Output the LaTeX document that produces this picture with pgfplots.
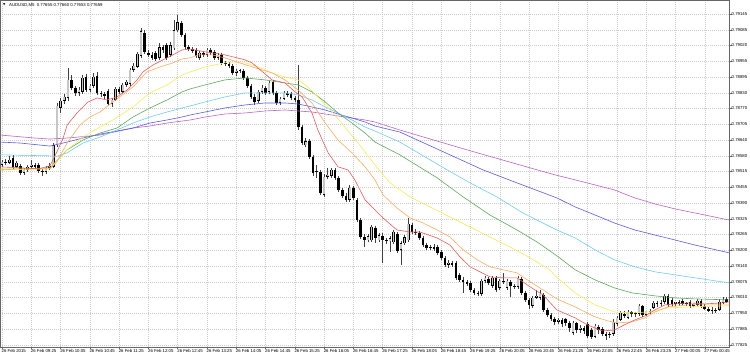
\documentclass[border=0pt]{standalone}
\usepackage{pgfplots}
\pgfplotsset{compat=1.18}
\usepackage{pgfplotstable}
\usepackage{fontspec}
\setmainfont{Liberation Sans}
\newfontfamily\symfont{DejaVu Sans}
\definecolor{mared}{RGB}{240,90,90}
\definecolor{maorange}{RGB}{255,170,90}
\definecolor{mayellow}{RGB}{245,235,80}
\definecolor{magreen}{RGB}{90,170,90}
\definecolor{macyan}{RGB}{110,205,245}
\definecolor{mablue}{RGB}{90,90,235}
\definecolor{mapurple}{RGB}{185,100,200}

\pgfplotstableread{
i o h l c
0 0.78543 0.78563 0.78535 0.78555
1 0.78555 0.78567 0.78543 0.78551
2 0.78551 0.78579 0.78547 0.78563
3 0.78571 0.78583 0.78527 0.78535
4 0.78535 0.78559 0.78531 0.78551
5 0.78539 0.78547 0.78503 0.78511
6 0.78511 0.78531 0.78503 0.78523
7 0.78523 0.78543 0.78515 0.78535
8 0.78535 0.78563 0.78527 0.78543
9 0.78543 0.78551 0.78527 0.78535
10 0.78543 0.78551 0.78511 0.78519
11 0.78519 0.78527 0.78499 0.78515
12 0.78515 0.78539 0.78507 0.78531
13 0.78531 0.78551 0.78523 0.78539
14 0.78535 0.78630 0.78531 0.78622
15 0.78622 0.78790 0.78614 0.78778
16 0.78770 0.78810 0.78750 0.78798
17 0.78798 0.78826 0.78786 0.78814
18 0.78810 0.78930 0.78798 0.78882
19 0.78882 0.78902 0.78842 0.78850
20 0.78850 0.78858 0.78818 0.78830
21 0.78830 0.78854 0.78818 0.78842
22 0.78834 0.78902 0.78826 0.78890
23 0.78894 0.78906 0.78834 0.78842
24 0.78842 0.78866 0.78834 0.78858
25 0.78858 0.78910 0.78850 0.78894
26 0.78898 0.78914 0.78822 0.78830
27 0.78830 0.78838 0.78814 0.78826
28 0.78826 0.78834 0.78806 0.78818
29 0.78838 0.78846 0.78778 0.78786
30 0.78786 0.78810 0.78774 0.78802
31 0.78802 0.78854 0.78798 0.78846
32 0.78846 0.78854 0.78826 0.78834
33 0.78834 0.78870 0.78830 0.78862
34 0.78862 0.78882 0.78854 0.78874
35 0.78866 0.78930 0.78858 0.78922
36 0.78922 0.78950 0.78914 0.78938
37 0.78934 0.78994 0.78930 0.78986
38 0.78978 0.79089 0.78970 0.79077
39 0.79069 0.79081 0.78986 0.78994
40 0.78990 0.79002 0.78974 0.78982
41 0.78982 0.78994 0.78962 0.78970
42 0.78990 0.78998 0.78958 0.78966
43 0.78970 0.79029 0.78962 0.79013
44 0.79013 0.79021 0.78990 0.79002
45 0.79021 0.79029 0.78962 0.78970
46 0.78982 0.79033 0.78974 0.79021
47 0.79009 0.79121 0.79002 0.79081
48 0.79081 0.79141 0.79073 0.79113
49 0.79109 0.79117 0.79053 0.79061
50 0.79061 0.79069 0.79005 0.79013
51 0.79013 0.79021 0.78998 0.79005
52 0.79005 0.79013 0.78990 0.78998
53 0.79002 0.79009 0.78970 0.78978
54 0.78970 0.78998 0.78962 0.78990
55 0.78990 0.78998 0.78974 0.78982
56 0.78982 0.79009 0.78974 0.79002
57 0.79002 0.79009 0.78982 0.78990
58 0.78994 0.79002 0.78962 0.78970
59 0.78970 0.78990 0.78962 0.78982
60 0.78982 0.78990 0.78942 0.78950
61 0.78950 0.78958 0.78938 0.78946
62 0.78946 0.78954 0.78930 0.78938
63 0.78938 0.78946 0.78902 0.78910
64 0.78910 0.78926 0.78898 0.78918
65 0.78918 0.78926 0.78910 0.78922
66 0.78918 0.78926 0.78882 0.78890
67 0.78890 0.78898 0.78850 0.78858
68 0.78858 0.78866 0.78806 0.78814
69 0.78814 0.78826 0.78782 0.78794
70 0.78798 0.78842 0.78790 0.78834
71 0.78834 0.78862 0.78826 0.78850
72 0.78850 0.78858 0.78822 0.78830
73 0.78834 0.78878 0.78826 0.78870
74 0.78874 0.78882 0.78822 0.78830
75 0.78830 0.78838 0.78782 0.78790
76 0.78790 0.78814 0.78782 0.78806
77 0.78806 0.78838 0.78802 0.78830
78 0.78830 0.78838 0.78814 0.78822
79 0.78826 0.78834 0.78802 0.78810
80 0.78810 0.78818 0.78794 0.78802
81 0.78802 0.78942 0.78682 0.78694
82 0.78694 0.78702 0.78622 0.78630
83 0.78622 0.78650 0.78614 0.78638
84 0.78638 0.78646 0.78567 0.78575
85 0.78575 0.78583 0.78499 0.78511
86 0.78515 0.78543 0.78491 0.78519
87 0.78515 0.78523 0.78423 0.78431
88 0.78423 0.78507 0.78415 0.78495
89 0.78495 0.78531 0.78487 0.78503
90 0.78499 0.78531 0.78491 0.78523
91 0.78523 0.78531 0.78483 0.78491
92 0.78491 0.78499 0.78435 0.78443
93 0.78443 0.78451 0.78411 0.78419
94 0.78419 0.78431 0.78395 0.78403
95 0.78403 0.78463 0.78395 0.78451
96 0.78451 0.78459 0.78403 0.78411
97 0.78403 0.78411 0.78315 0.78323
98 0.78323 0.78331 0.78247 0.78255
99 0.78255 0.78267 0.78215 0.78243
100 0.78243 0.78267 0.78235 0.78259
101 0.78243 0.78303 0.78235 0.78295
102 0.78291 0.78299 0.78231 0.78251
103 0.78243 0.78271 0.78235 0.78263
104 0.78259 0.78271 0.78152 0.78243
105 0.78243 0.78251 0.78227 0.78239
106 0.78239 0.78259 0.78196 0.78251
107 0.78235 0.78283 0.78227 0.78275
108 0.78267 0.78275 0.78192 0.78200
109 0.78204 0.78239 0.78144 0.78231
110 0.78231 0.78263 0.78223 0.78255
111 0.78243 0.78331 0.78235 0.78307
112 0.78303 0.78311 0.78267 0.78275
113 0.78275 0.78287 0.78263 0.78271
114 0.78271 0.78279 0.78243 0.78251
115 0.78251 0.78259 0.78215 0.78223
116 0.78223 0.78231 0.78204 0.78211
117 0.78211 0.78223 0.78204 0.78215
118 0.78215 0.78227 0.78200 0.78207
119 0.78215 0.78223 0.78184 0.78192
120 0.78196 0.78204 0.78164 0.78172
121 0.78172 0.78180 0.78136 0.78144
122 0.78144 0.78164 0.78132 0.78152
123 0.78152 0.78160 0.78136 0.78144
124 0.78152 0.78160 0.78084 0.78092
125 0.78104 0.78112 0.78076 0.78084
126 0.78084 0.78096 0.78032 0.78076
127 0.78076 0.78084 0.78060 0.78068
128 0.78072 0.78080 0.78036 0.78044
129 0.78044 0.78052 0.78024 0.78032
130 0.78032 0.78040 0.78020 0.78028
131 0.78028 0.78088 0.78020 0.78080
132 0.78080 0.78100 0.78072 0.78092
133 0.78088 0.78096 0.78064 0.78072
134 0.78060 0.78100 0.78052 0.78092
135 0.78092 0.78100 0.78036 0.78044
136 0.78052 0.78088 0.78044 0.78080
137 0.78080 0.78112 0.78068 0.78076
138 0.78052 0.78088 0.78044 0.78080
139 0.78076 0.78084 0.78016 0.78060
140 0.78060 0.78068 0.78048 0.78056
141 0.78056 0.78100 0.78048 0.78092
142 0.78088 0.78096 0.78024 0.78032
143 0.78032 0.78040 0.77996 0.78004
144 0.78004 0.78012 0.77968 0.77984
145 0.77980 0.78020 0.77972 0.78012
146 0.78012 0.78044 0.78008 0.78020
147 0.78012 0.78044 0.78004 0.78028
148 0.78024 0.78032 0.77956 0.77964
149 0.77964 0.77972 0.77936 0.77944
150 0.77944 0.77952 0.77920 0.77928
151 0.77928 0.77936 0.77904 0.77916
152 0.77916 0.77932 0.77908 0.77924
153 0.77924 0.77932 0.77896 0.77908
154 0.77928 0.77932 0.77900 0.77912
155 0.77912 0.77920 0.77876 0.77892
156 0.77872 0.77920 0.77864 0.77912
157 0.77912 0.77916 0.77872 0.77884
158 0.77884 0.77904 0.77872 0.77892
159 0.77892 0.77900 0.77868 0.77880
160 0.77908 0.77916 0.77852 0.77860
161 0.77884 0.77892 0.77848 0.77856
162 0.77856 0.77908 0.77852 0.77900
163 0.77896 0.77904 0.77868 0.77884
164 0.77888 0.77896 0.77860 0.77868
165 0.77868 0.77876 0.77844 0.77860
166 0.77864 0.77876 0.77852 0.77868
167 0.77868 0.77928 0.77860 0.77916
168 0.77908 0.77940 0.77900 0.77932
169 0.77924 0.77960 0.77920 0.77952
170 0.77948 0.77960 0.77932 0.77940
171 0.77932 0.77964 0.77928 0.77956
172 0.77956 0.77960 0.77936 0.77948
173 0.77948 0.77956 0.77936 0.77952
174 0.77948 0.77988 0.77940 0.77980
175 0.77980 0.77984 0.77936 0.77944
176 0.77944 0.77952 0.77940 0.77960
177 0.77960 0.77968 0.77948 0.77956
178 0.77972 0.78000 0.77968 0.77992
179 0.77992 0.78000 0.77976 0.77988
180 0.77988 0.78004 0.77980 0.77992
181 0.77996 0.78028 0.77988 0.78020
182 0.78020 0.78028 0.77976 0.77984
183 0.78004 0.78012 0.77980 0.77988
184 0.77988 0.77996 0.77980 0.77996
185 0.77996 0.78004 0.77980 0.77988
186 0.78000 0.78008 0.77984 0.77988
187 0.77988 0.77996 0.77980 0.77992
188 0.77996 0.78004 0.77972 0.77980
189 0.77980 0.77988 0.77976 0.77988
190 0.77984 0.78008 0.77980 0.78000
191 0.78000 0.78008 0.77972 0.77980
192 0.77980 0.77988 0.77964 0.77968
193 0.77968 0.77976 0.77956 0.77960
194 0.77960 0.77976 0.77948 0.77964
195 0.77964 0.77972 0.77952 0.77960
196 0.77964 0.78008 0.77960 0.77996
197 0.77992 0.78016 0.77988 0.78004
198 0.78008 0.78016 0.77992 0.77996
}\candles

\pgfplotstableread{
x y
-0.5 0.78535
5 0.78531
10 0.78527
13.1 0.78539
15 0.78595
16.7 0.78650
17.8 0.78702
20.5 0.78750
23.5 0.78794
26.0 0.78810
28.7 0.78802
31.4 0.78814
34.2 0.78842
36.9 0.78882
38.5 0.78914
41.3 0.78942
44.0 0.78962
46.7 0.78982
49.2 0.79002
51.4 0.79005
55.5 0.78994
60.9 0.78982
66.4 0.78962
68.3 0.78950
73.8 0.78882
77.3 0.78870
80.1 0.78834
82.0 0.78814
84.7 0.78750
86.3 0.78682
89.1 0.78591
91.8 0.78535
94.5 0.78523
96.4 0.78483
99.2 0.78403
101.9 0.78363
104.1 0.78331
107.9 0.78283
111.5 0.78275
114.2 0.78275
118.9 0.78251
122.4 0.78223
125.1 0.78176
127.9 0.78136
130.6 0.78116
133.3 0.78096
136.9 0.78092
140.7 0.78092
144.3 0.78056
147.8 0.78024
151.6 0.77964
156.6 0.77932
160 0.77904
164 0.77880
167.3 0.77884
170 0.77904
172.9 0.77924
175.7 0.77940
178.4 0.77964
181.1 0.77984
184 0.77988
187.4 0.77992
192.1 0.77988
196.7 0.77992
198.6 0.77996
}\mared

\pgfplotstableread{
x y
-0.5 0.78527
13.1 0.78527
15.0 0.78555
17.8 0.78630
21.3 0.78702
24.0 0.78734
26.8 0.78754
30.3 0.78794
35.8 0.78854
39.6 0.78914
43.2 0.78934
46.7 0.78950
49.2 0.78966
51.4 0.78970
53.6 0.78982
57.4 0.78982
60.9 0.78970
68.3 0.78934
73.8 0.78910
77.3 0.78882
80.9 0.78842
84.7 0.78790
88.3 0.78710
91.8 0.78642
95.6 0.78591
99.2 0.78535
101.9 0.78483
104.1 0.78423
107.9 0.78371
111.5 0.78331
115.0 0.78311
118.9 0.78283
122.4 0.78255
126.0 0.78204
129.8 0.78164
133.3 0.78136
136.9 0.78124
140.7 0.78112
144.3 0.78076
147.8 0.78044
151.6 0.78008
156.6 0.77976
162 0.77936
165.6 0.77920
168 0.77912
172 0.77916
175.7 0.77932
178.4 0.77956
182 0.77976
187.4 0.77984
192 0.77984
198.6 0.77984
}\maorange

\pgfplotstableread{
x y
-0.5 0.78523
13.1 0.78527
14.0 0.78543
17.8 0.78603
22.1 0.78654
26.8 0.78694
30.3 0.78722
35.8 0.78774
40.4 0.78830
45.1 0.78862
49.2 0.78902
51.4 0.78914
55.5 0.78934
60.9 0.78950
66.4 0.78950
70 0.78934
73.8 0.78910
77.3 0.78894
80.9 0.78882
83.6 0.78854
86.3 0.78814
90.2 0.78754
93.7 0.78694
97.3 0.78630
101.9 0.78543
106 0.78471
111.5 0.78415
117 0.78375
122.4 0.78335
127.9 0.78295
133.3 0.78255
138.8 0.78215
144.3 0.78172
149.7 0.78124
151.1 0.78100
156.6 0.78032
162 0.77984
167.3 0.77956
172.1 0.77952
176.5 0.77956
182 0.77972
187.4 0.77976
196.7 0.77980
198.6 0.77980
}\mayellow

\pgfplotstableread{
x y
-0.5 0.78523
13.1 0.78531
17.8 0.78603
22.1 0.78642
26.8 0.78670
31.4 0.78690
35.8 0.78734
40.4 0.78770
45.1 0.78802
49.2 0.78834
51.4 0.78846
55.5 0.78862
60.9 0.78882
66.4 0.78890
71.9 0.78882
77.3 0.78870
80.9 0.78862
84.7 0.78834
88.3 0.78794
91.8 0.78750
95.6 0.78710
99.2 0.78670
101.9 0.78634
108.7 0.78583
118.9 0.78491
126 0.78415
133.3 0.78343
140.7 0.78283
146.2 0.78235
151.6 0.78180
156.6 0.78124
162 0.78084
167.3 0.78052
172.1 0.78032
178.4 0.78020
183.9 0.78012
189.3 0.78008
198.6 0.78004
}\magreen

\pgfplotstableread{
x y
-0.5 0.78583
13.1 0.78579
14.5 0.78575
17.8 0.78591
22.1 0.78630
26.8 0.78654
31.4 0.78682
35.8 0.78710
40.4 0.78734
45.1 0.78754
49.2 0.78770
51.4 0.78778
55.5 0.78794
60.9 0.78814
66.4 0.78830
71.9 0.78830
77.3 0.78830
80.9 0.78822
84.7 0.78802
88.3 0.78774
91.8 0.78750
95.6 0.78722
99.2 0.78694
101.9 0.78678
108.7 0.78634
121.6 0.78523
127.9 0.78471
135.2 0.78415
142.3 0.78351
151.6 0.78283
156.6 0.78251
162 0.78204
167.3 0.78164
172.9 0.78136
178.4 0.78116
183.9 0.78104
189.3 0.78092
198.6 0.78072
}\macyan

\pgfplotstableread{
x y
-0.5 0.78634
5 0.78630
13.1 0.78618
17.8 0.78634
22.1 0.78650
26.8 0.78666
31.4 0.78678
35.8 0.78690
40.4 0.78710
45.1 0.78722
49.2 0.78734
51.4 0.78742
55.5 0.78754
60.9 0.78770
66.4 0.78782
71.9 0.78790
77.3 0.78790
80.9 0.78786
84.7 0.78774
88.3 0.78762
91.8 0.78746
95.6 0.78730
99.2 0.78714
101.9 0.78698
108.7 0.78674
131.4 0.78523
140.7 0.78471
151.6 0.78411
156.6 0.78375
162 0.78343
167.3 0.78311
172.9 0.78283
178.4 0.78263
183.9 0.78243
189.3 0.78223
198.6 0.78192
}\mablue

\pgfplotstableread{
x y
-0.5 0.78662
9 0.78650
13.1 0.78646
17.8 0.78650
26.8 0.78662
35.8 0.78690
40.4 0.78698
45.1 0.78710
51.4 0.78722
55.5 0.78734
60.9 0.78746
66.4 0.78750
71.9 0.78758
77.3 0.78762
80.9 0.78758
84.7 0.78754
88.3 0.78746
91.8 0.78738
95.6 0.78730
99.2 0.78722
101.9 0.78714
108.7 0.78682
127 0.78603
146.2 0.78523
151.1 0.78503
156.6 0.78483
162 0.78463
167.3 0.78443
172.9 0.78411
178.4 0.78387
183.9 0.78367
189.3 0.78351
198.6 0.78323
}\mapurple

\begin{document}
\begin{tikzpicture}
\begin{axis}[
  at={(0,0)}, anchor=south west,
  scale only axis, width=729pt, height=347pt,
  xmin=-0.55, xmax=198.63, ymin=0.77816, ymax=0.79201,
  scaled y ticks=false, scaled x ticks=false,
  axis line style={black!60, line width=0.7pt},
  xtick={0,8,...,192},
  xticklabels={26 Feb 2015, 26 Feb 09:25, 26 Feb 10:05, 26 Feb 10:45, 26 Feb 11:25, 26 Feb 12:05, 26 Feb 12:45, 26 Feb 13:25, 26 Feb 14:05, 26 Feb 14:45, 26 Feb 15:25, 26 Feb 16:05, 26 Feb 16:45, 26 Feb 17:25, 26 Feb 18:05, 26 Feb 18:45, 26 Feb 19:25, 26 Feb 20:05, 26 Feb 20:45, 26 Feb 21:25, 26 Feb 22:05, 26 Feb 22:45, 26 Feb 23:25, 27 Feb 00:05, 27 Feb 00:45},
  ytick={0.791450,0.790821,0.790193,0.789564,0.788936,0.788307,0.787679,0.787050,0.786421,0.785793,0.785164,0.784536,0.783907,0.783279,0.782650,0.782021,0.781393,0.780764,0.780136,0.779507,0.778879,0.778250},
  yticklabels={0.79145,0.79085,0.79020,0.78955,0.78895,0.78830,0.78770,0.78705,0.78640,0.78580,0.78515,0.78455,0.78390,0.78325,0.78265,0.78200,0.78140,0.78075,0.78010,0.77950,0.77885,0.77825},
  xtick pos=lower, ytick pos=right, yticklabel pos=right,
  tick align=outside, major tick length=2.5pt,
  tick style={black!60, line width=0.4pt},
  grid=major,
  major grid style={black!20, line width=0.4pt, dash pattern=on 0.6pt off 1.4pt},
  xticklabel style={anchor=north west, inner sep=0pt, xshift=-0.5pt, font=\fontsize{4.3}{5}\selectfont},
  yticklabel style={anchor=west, inner sep=0pt, font=\fontsize{4.3}{5}\selectfont},
]
% wicks
\addplot[black!75, line width=0.6pt, mark=none, quiver={u=0, v=\thisrow{h}-\thisrow{l}}] table[x=i, y=l] {\candles};
% bodies
\addplot[black, line width=2.6pt, mark=none, quiver={u=0, v=\thisrow{c}-\thisrow{o}}] table[x=i, y=o] {\candles};
\addplot[black!22, line width=1.6pt, mark=none, quiver={u=0, v={max(\thisrow{c}-\thisrow{o}-0.00004,0)}}] table[x=i, y expr=\thisrow{o}+0.00002] {\candles};
% moving averages
\addplot[mapurple, line width=0.6pt] table {\mapurple};
\addplot[mablue, line width=0.6pt] table {\mablue};
\addplot[macyan, line width=0.6pt] table {\macyan};
\addplot[magreen, line width=0.6pt] table {\magreen};
\addplot[mayellow, line width=0.6pt] table {\mayellow};
\addplot[maorange, line width=0.6pt] table {\maorange};
\addplot[mared, line width=0.6pt] table {\mared};
\node[anchor=west, inner sep=0pt, font=\fontsize{4.3}{5}\selectfont] at (rel axis cs:0.0123,0.9856) {AUDUSD,M5\ \ 0.77655 0.77660 0.77653 0.77659};
\node[inner sep=0pt, font=\symfont\fontsize{3}{3}\selectfont] at (rel axis cs:0.0058,0.9856) {▼};
\end{axis}
\pgfresetboundingbox
\path[use as bounding box] (0pt,-8pt) rectangle (750pt,347pt);
\end{tikzpicture}
\end{document}
